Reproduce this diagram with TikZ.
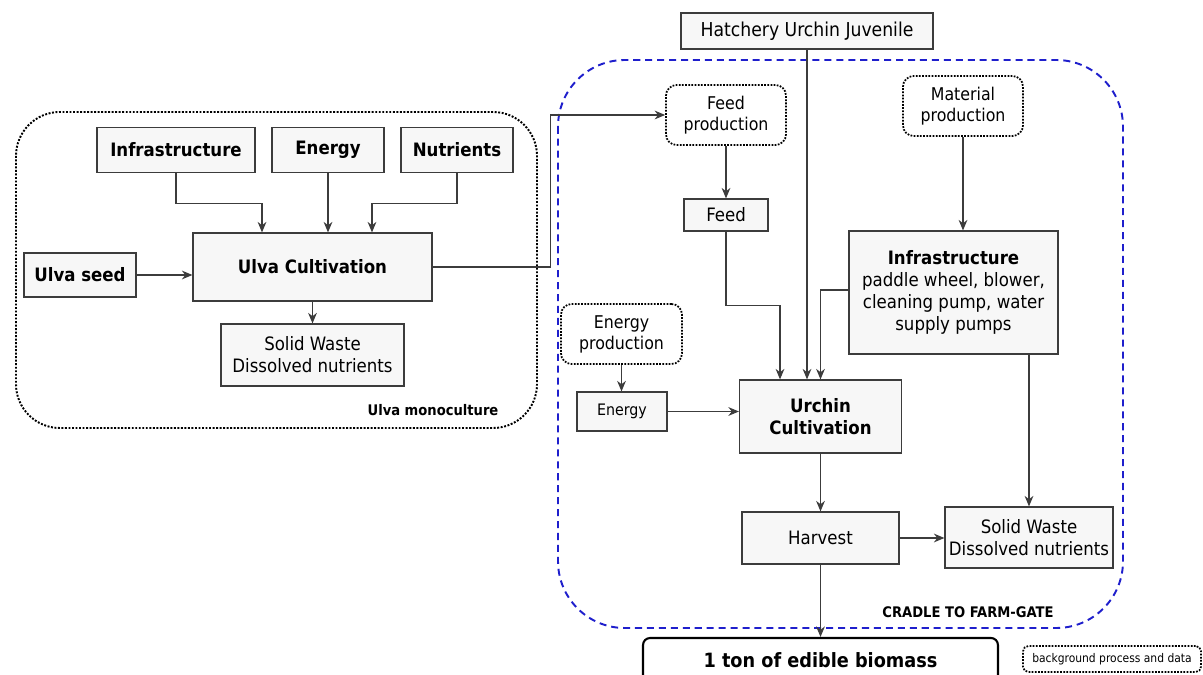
\documentclass[tikz,border=0pt]{standalone}
\usepackage{fontspec}
\setmainfont{DejaVu Sans Condensed}
\usepackage{tikz}
\usetikzlibrary{arrows.meta, positioning, calc}
\definecolor{linegray}{HTML}{3C3C3C}
\definecolor{boxfill}{HTML}{F7F7F7}
\definecolor{gateblue}{HTML}{1F1FCC}

\begin{document}
\begin{tikzpicture}[
  x=0.02cm, y=-0.02cm,
  box/.style={rectangle, draw=linegray, fill=boxfill, line width=0.7pt,
              inner sep=1pt, align=center, font=\fontsize{10.5}{12.5}\selectfont},
  bbox/.style={box, font=\fontsize{10.5}{12.5}\selectfont\bfseries},
  bgbox/.style={box, fill=white, draw=black, line width=1pt, dash pattern=on 1pt off 0.8pt,
                rounded corners=6pt, font=\fontsize{10}{12}\selectfont},
  arr/.style={-{Stealth[length=6pt,width=5pt]}, draw=linegray, line width=0.6pt},
  frm/.style={font=\fontsize{8.3}{10}\selectfont\bfseries},
]
  \useasboundingbox (0,0) rectangle (1203,675);

  % frames
  \draw[black, line width=1.1pt, dash pattern=on 1.1pt off 0.9pt, rounded corners=25pt] (16,112) rectangle (537,428);
  \draw[gateblue, dash pattern=on 4pt off 2.8pt, line width=1.1pt, rounded corners=38pt] (558,60) rectangle (1123,628);
  \node[frm] (ulvalbl) at (433,410) {Ulva monoculture};
  \node[frm] (gatelbl) at (968,612) {CRADLE TO FARM-GATE};

  % Ulva monoculture
  \node[bbox, minimum width=3.16cm, minimum height=0.9cm] (infraU) at (176,150) {Infrastructure};
  \node[bbox, minimum width=2.24cm, minimum height=0.9cm] (energyU) at (328,150) {Energy};
  \node[bbox, minimum width=2.24cm, minimum height=0.9cm] (nutriU) at (457,150) {Nutrients};
  \node[bbox, minimum width=2.24cm, minimum height=0.88cm] (seed) at (80,275) {Ulva seed};
  \node[bbox, minimum width=4.78cm, minimum height=1.36cm] (ulva) at (312.5,267) {Ulva Cultivation};
  \node[box, minimum width=3.66cm, minimum height=1.24cm] (wasteU) at (312.5,355) {Solid Waste\\Dissolved nutrients};

  % urchin system
  \node[box, minimum width=5.04cm, minimum height=0.72cm, font=\fontsize{10.9}{13}\selectfont] (hatch) at (807,31) {Hatchery Urchin Juvenile};
  \node[bgbox, minimum width=2.4cm, minimum height=1.2cm] (feedprod) at (726,115) {Feed\\production};
  \node[bgbox, minimum width=2.4cm, minimum height=1.2cm] (matprod) at (963,106) {Material\\production};
  \node[box, minimum width=1.68cm, minimum height=0.64cm] (feed) at (726,215) {Feed};
  \node[box, minimum width=4.18cm, minimum height=2.46cm] (infraH) at (953.5,292.5)
    {\textbf{Infrastructure}\\paddle wheel, blower,\\cleaning pump, water\\supply pumps};
  \node[bgbox, minimum width=2.42cm, minimum height=1.2cm] (enprod) at (621.5,334) {Energy\\production};
  \node[box, minimum width=1.8cm, minimum height=0.78cm, font=\fontsize{9}{11}\selectfont] (energyH) at (622,411.5) {Energy};
  \node[bbox, minimum width=3.24cm, minimum height=1.46cm] (urchin) at (820.5,416.5) {Urchin\\Cultivation};
  \node[box, minimum width=3.14cm, minimum height=1.04cm] (harvest) at (820.5,538) {Harvest};
  \node[box, minimum width=3.36cm, minimum height=1.22cm] (wasteH) at (1029,537.5) {Solid Waste\\Dissolved nutrients};
  \node[bbox, fill=white, draw=black, line width=1.2pt, rounded corners=4pt,
        minimum width=7.1cm, minimum height=0.88cm, font=\fontsize{11.2}{13}\selectfont\bfseries] (ton) at (820.5,660) {1 ton of edible biomass};
  \node[bgbox, rounded corners=3pt, minimum width=3.56cm, minimum height=0.52cm,
        font=\fontsize{6.8}{8}\selectfont] (legend) at (1112,659) {background process and data};

  % Ulva flows
  \draw[arr] (infraU.south) -- ++(0,30) -| ([xshift=-1.01cm]ulva.north);
  \draw[arr] (energyU.south) -- (energyU.south |- ulva.north);
  \draw[arr] (nutriU.south) -- ++(0,30) -| ([xshift=1.19cm]ulva.north);
  \draw[arr] (seed.east) -- (seed.east -| ulva.west);
  \draw[arr] (ulva.south) -- (wasteU.north);
  \draw[arr] (ulva.east) -- ++(118,0) |- (feedprod.west);

  % urchin flows
  \draw[arr] (feedprod.south) -- (feed.north);
  \draw[arr] (feed.south) -- ++(0,74) -| ([xshift=-0.81cm]urchin.north);
  \draw[arr] (hatch.south) -- (hatch.south |- urchin.north);
  \draw[arr] (matprod.south) -- (matprod.south |- infraH.north);
  \draw[arr] ([yshift=0.05cm]infraH.west) -| (urchin.north);
  \draw[arr] (infraH.south -| wasteH.north) -- (wasteH.north);
  \draw[arr] (enprod.south) -- (enprod.south |- energyH.north);
  \draw[arr] (energyH.east) -- (energyH.east -| urchin.west);
  \draw[arr] (urchin.south) -- (harvest.north);
  \draw[arr] (harvest.east) -- (harvest.east -| wasteH.west);
  \draw[arr] (harvest.south) -- (ton.north);
\end{tikzpicture}
\end{document}
